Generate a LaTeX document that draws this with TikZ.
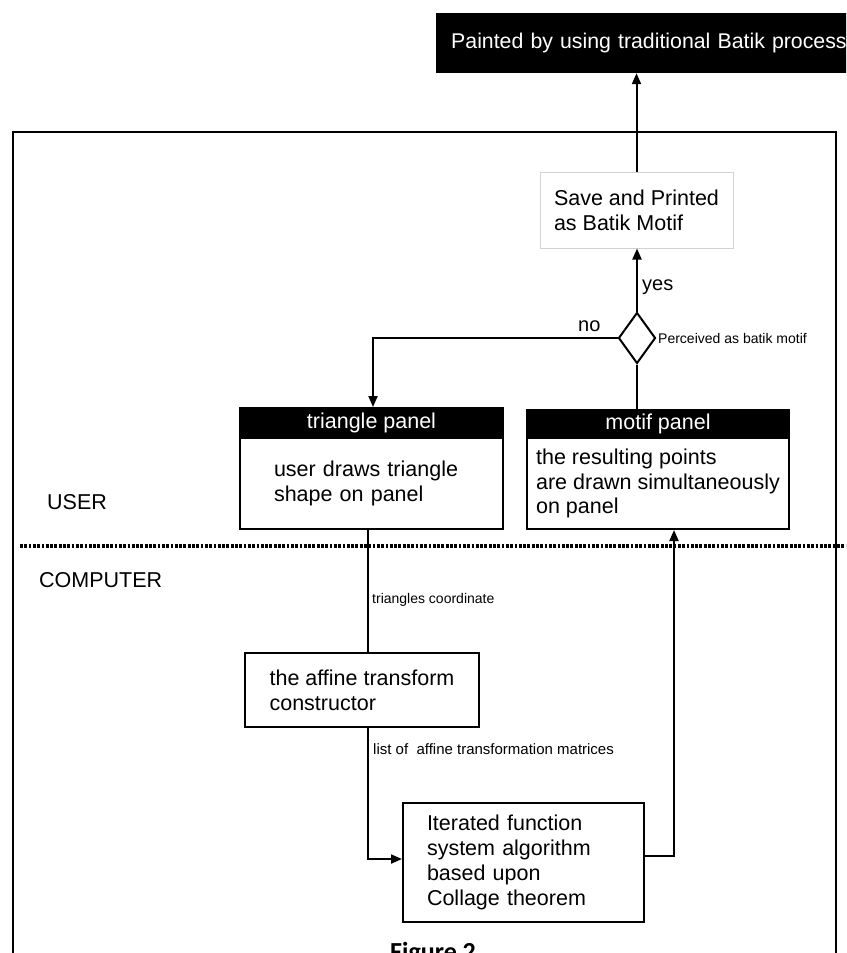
\documentclass[tikz,border=0pt]{standalone}
\usepackage{fontspec}
\setmainfont{Liberation Sans}
\newfontfamily\capfont{Carlito}
\usetikzlibrary{shapes.geometric,arrows.meta}
\begin{document}
\begin{tikzpicture}[x=1pt,y=-1pt,
  conn/.style={line width=2pt},
  arr/.style={conn,-{Triangle[length=11pt,width=9pt]}},
  bodyfont/.style={font=\fontsize{21.5}{24.8}\selectfont},
  smallfont/.style={font=\fontsize{14}{16}\selectfont},
  plainbox/.style={draw, line width=2pt, bodyfont, align=left, inner sep=0pt},
  headbox/.style={draw, fill=black, text=white, line width=2pt, bodyfont, inner sep=0pt},
  lbl/.style={inner sep=0pt, anchor=west}
]
\useasboundingbox (0,0) rectangle (846,953);
\clip (0,0) rectangle (846,953);

% outer frame and separator
\draw[line width=2.2pt] (12.7,970) -- (12.7,132) -- (836,132) -- (836,970);
\draw[line width=3.5pt, dash pattern=on 2.8pt off 1.5pt] (20,546) -- (846,546);

% nodes
\node[fill=black, text=white, font=\fontsize{21.3}{25}\selectfont, anchor=west,
      minimum height=60pt, inner xsep=15pt, inner ysep=0pt, text width=420pt, align=left]
      (batik) at (436,43) {Painted by using traditional Batik process};
\node[draw=gray!35, line width=1pt, bodyfont, align=left, inner sep=0pt,
      minimum width=193pt, minimum height=76pt]
      (save) at (636.5,210) {Save and Printed\\as Batik Motif};
\node[diamond, draw, line width=2pt, minimum width=37pt, minimum height=51pt, inner sep=0pt]
      (dia) at (637,338) {};

\node[headbox, minimum width=263pt, minimum height=30pt] (trihead) at (371.5,423) {triangle panel};
\node[plainbox, minimum width=263pt, minimum height=91pt, text width=195pt]
      (tribody) at (371.5,483.5) {user draws triangle\\shape on panel};

\node[headbox, minimum width=262pt, minimum height=28pt] (motifhead) at (658,424) {motif panel};
\node[plainbox, minimum width=262pt, minimum height=91pt]
      (motifbody) at (658,483.5) {the resulting points\\are drawn simultaneously\\on panel};

\node[plainbox, minimum width=234pt, minimum height=74pt]
      (affine) at (362,690) {the affine transform\\constructor};
\node[plainbox, minimum width=241pt, minimum height=119pt, text width=193pt]
      (ifs) at (523.5,862.5) {Iterated function\\system algorithm\\based upon\\Collage theorem};

% labels
\node[lbl, font=\fontsize{20}{22}\selectfont] (yes) at (642,287) {yes};
\node[lbl, font=\fontsize{20}{22}\selectfont] (no) at (578,326) {no};
\node[lbl, smallfont] (perc) at (658,338) {Perceived as batik motif};
\node[lbl, smallfont] (tc) at (372,600) {triangles coordinate};
\node[lbl, font=\fontsize{15}{17}\selectfont] (list) at (373,749) {list of\ \ affine transformation matrices};
\node[lbl, bodyfont] (user) at (47,502) {USER};
\node[lbl, bodyfont] (comp) at (39,580) {COMPUTER};
\node[anchor=base west, inner sep=0pt, font=\capfont\bfseries\fontsize{26}{30}\selectfont]
      (caption) at (390,960) {Figure 2};

% connectors
\draw[arr] (save.north) -- (save.north |- batik.south);
\draw[arr] (dia.north) -- (dia.north |- save.south);
\draw[arr] (dia.west) -| ([xshift=1.5pt]trihead.north);
\draw[conn] (dia.south) -- (dia.south |- motifhead.north);
\draw[conn] ([xshift=-3.5pt]tribody.south) -- ([xshift=-3.5pt]tribody.south |- affine.north);
\draw[arr] ([xshift=6pt]affine.south) |- ([yshift=3.5pt]ifs.west);
\draw[arr] ([yshift=6.5pt]ifs.east) -| ([xshift=16pt]motifbody.south);
\end{tikzpicture}
\end{document}
